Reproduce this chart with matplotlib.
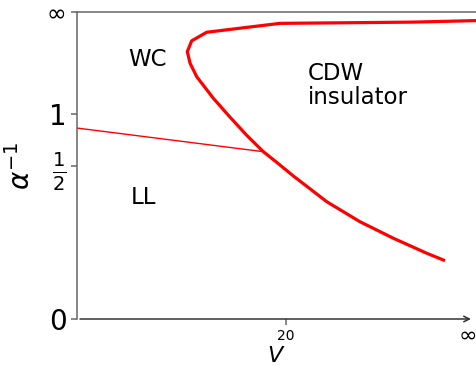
import matplotlib
matplotlib.use('Agg')
import matplotlib.pyplot as plt
import numpy as np

# compactified coordinates: u = V/(V+c) along x, w = 2a/(1+2a) along y (a = 1/alpha)
# phase boundary, WC/CDW (thick line)
bound_u = [1.013, 0.850, 0.515, 0.329, 0.291, 0.280, 0.287, 0.304, 0.346, 0.388,
           0.431, 0.473, 0.511, 0.549, 0.634, 0.718, 0.803, 0.888, 0.934]
bound_w = [0.972, 0.967, 0.963, 0.934, 0.906, 0.871, 0.833, 0.789, 0.719, 0.658,
           0.598, 0.545, 0.506, 0.466, 0.382, 0.317, 0.263, 0.214, 0.190]
# LL/WC crossover (thin line)
cross_u = [0.0, 0.473]
cross_w = [0.622, 0.545]

xtick_pos = [0.530, 0.992]
xtick_lab = ['20', '∞']
ytick_pos = [0.0, 0.5, 2/3, 1.0]
ytick_lab = ['0', r'$\frac{1}{2}$', '1', '∞']

fig = plt.figure(figsize=(4.77, 3.66), dpi=100)
ax = fig.add_axes([77/477, 1-319/366, (476-77)/477, (319-12)/366])

ax.plot(bound_u, bound_w, color='red', lw=2.3, solid_capstyle='butt',
        solid_joinstyle='round', clip_on=False)
ax.plot(cross_u, cross_w, color='red', lw=1.0)

ax.set_xlim(0, 1.0127)
ax.set_ylim(0, 1)

for s in ['right', 'bottom']:
    ax.spines[s].set_visible(False)
for s in ['left', 'top']:
    ax.spines[s].set_color('#666666')
    ax.spines[s].set_linewidth(1.1)

# x axis drawn as an arrow
ax.annotate('', xy=(1.0, 0), xytext=(0.0076, 0),
            arrowprops=dict(arrowstyle='->', color='#333333', lw=1.1,
                            shrinkA=0, shrinkB=0, mutation_scale=10),
            annotation_clip=False)

ax.set_xticks([xtick_pos[0]])
ax.set_xticklabels([xtick_lab[0]], fontsize=10)
ax.text(xtick_pos[1], -0.02, xtick_lab[1], fontsize=16, ha='center', va='top')
ax.set_yticks(ytick_pos)
ax.set_yticklabels(ytick_lab)
for lab, fs in zip(ax.get_yticklabels(), [20, 20, 20, 17]):
    lab.set_fontsize(fs)
ax.tick_params(colors='#666666', length=4, width=1.1, labelcolor='black')

ax.set_xlabel(r'$V$', fontsize=16, labelpad=2)
ax.set_ylabel(r'$\alpha^{-1}$', fontsize=20)
ax.yaxis.set_label_coords(-0.103, 0.5)

ax.text(0.180, 0.844, 'WC', fontsize=16.5, ha='center', va='center')
ax.text(0.585, 0.762, 'CDW\ninsulator', fontsize=16.5, ha='left', va='center',
        linespacing=1.05)
ax.text(0.168, 0.397, 'LL', fontsize=16.5, ha='center', va='center')

fig.savefig('out.png', dpi=100)
